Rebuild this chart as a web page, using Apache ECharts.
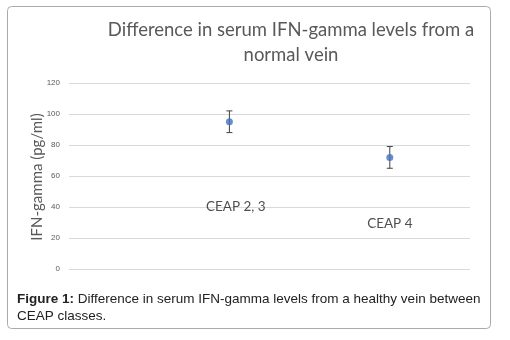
<!DOCTYPE html>
<html><head><meta charset="utf-8">
<script src="https://cdn.jsdelivr.net/npm/echarts@6/dist/echarts.min.js"></script>
<style>html,body{margin:0;padding:0;background:#fff}#c{width:510px;height:340px}</style>
</head><body><div id="c"></div>
<script>
const categories = ['CEAP 2, 3', 'CEAP 4'];
const xPositions = [1, 2];
const means = [95, 72];
const errors = [7, 7];
const yTicks = [0, 20, 40, 60, 80, 100, 120];
const yAxisTitle = 'IFN-gamma (pg/ml)';
const labelPositions = [[1.04, 40], [2.0, 29]];

const chart = echarts.init(document.getElementById('c'), null, {renderer: 'canvas'});
const errData = xPositions.map((x, i) => [x, means[i] - errors[i], means[i] + errors[i]]);
chart.setOption({
  animation: false,
  title: [{
    text: 'Difference in serum IFN-gamma levels from a\nnormal vein',
    left: 291, top: 18, textAlign: 'center', padding: 0,
    textStyle: {fontFamily: 'Lato', fontSize: 18.5, fontWeight: 'normal', color: '#595959', lineHeight: 25}
  }, {
    text: '{b|Figure 1:} Difference in serum IFN-gamma levels from a healthy vein between\nCEAP classes.',
    left: 17, top: 291, padding: 0,
    textStyle: {fontFamily: 'Liberation Sans', fontSize: 13.5, fontWeight: 'normal', color: '#222', lineHeight: 17,
      rich: {b: {fontFamily: 'Liberation Sans', fontSize: 13.5, fontWeight: 'bold', color: '#222'}}}
  }],
  graphic: [{
    type: 'rect', shape: {x: 7.5, y: 6.5, width: 483, height: 322, r: 4},
    style: {fill: 'none', stroke: '#aaaaaa', lineWidth: 1}, silent: true, z: -1
  }, {
    type: 'text', x: 37, y: 177, rotation: Math.PI / 2, silent: true,
    style: {text: yAxisTitle, fontFamily: 'Lato', fontSize: 15, fill: '#595959', align: 'center', verticalAlign: 'middle'}
  }],
  grid: {left: 69, right: 40, top: 83, bottom: 71},
  xAxis: {type: 'value', min: 0, max: 2.5, show: false},
  yAxis: {
    type: 'value', min: yTicks[0], max: yTicks[yTicks.length - 1], interval: 20,
    axisLine: {show: false}, axisTick: {show: false},
    axisLabel: {fontFamily: 'Liberation Sans', fontSize: 8, color: '#595959', margin: 9},
    splitLine: {lineStyle: {color: '#d9d9d9', width: 1}}
  },
  series: [{
    type: 'custom',
    data: errData,
    renderItem: function (params, api) {
      const x = api.value(0);
      const lo = api.coord([x, api.value(1)]);
      const hi = api.coord([x, api.value(2)]);
      const w = 3;
      const st = {stroke: '#404040', lineWidth: 1};
      return {type: 'group', children: [
        {type: 'line', shape: {x1: lo[0], y1: lo[1], x2: hi[0], y2: hi[1]}, style: st},
        {type: 'line', shape: {x1: lo[0] - w, y1: lo[1], x2: lo[0] + w, y2: lo[1]}, style: st},
        {type: 'line', shape: {x1: hi[0] - w, y1: hi[1], x2: hi[0] + w, y2: hi[1]}, style: st}
      ]};
    },
    z: 2
  }, {
    type: 'scatter',
    data: xPositions.map((x, i) => [x, means[i]]),
    symbol: 'circle', symbolSize: 7,
    itemStyle: {color: '#4472C4'},
    z: 3
  }, {
    type: 'scatter',
    data: categories.map((c, i) => ({name: c, value: labelPositions[i]})),
    symbolSize: 0,
    label: {show: true, position: 'inside', formatter: '{b}', fontFamily: 'Lato', fontSize: 13.5, color: '#222'},
    z: 4
  }]
});
</script></body></html>
